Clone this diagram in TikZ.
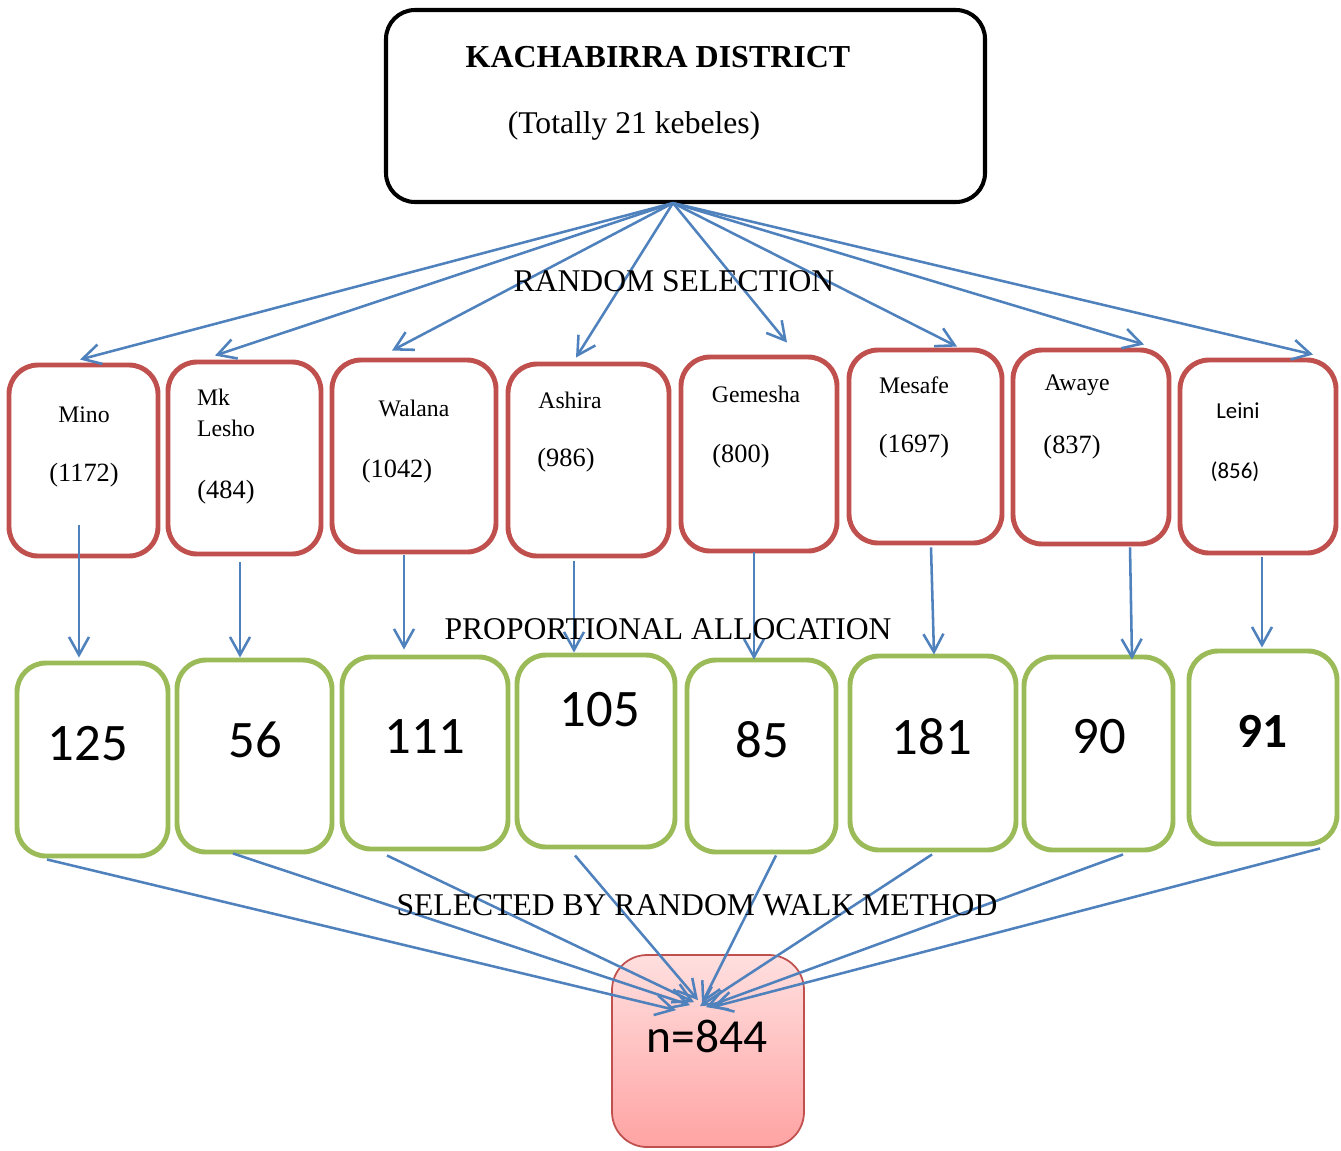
\documentclass[tikz,border=0pt]{standalone}
\usepackage{fontspec}
\setmainfont{Liberation Serif}
\newfontfamily\calibri{Carlito}
\usetikzlibrary{arrows.meta,calc,fit}
\definecolor{linkblue}{HTML}{4F81BD}
\definecolor{kebred}{HTML}{C0504D}
\definecolor{sizegreen}{HTML}{9BBB59}
\definecolor{pinktop}{HTML}{FFDFDF}
\definecolor{pinkbot}{HTML}{FFA3A3}

\begin{document}
\begin{tikzpicture}[x=0.02cm,y=-0.02cm,>={Straight Barb[length=3.6mm,width=4mm]},
  box/.style={draw,rounded corners=0.58cm,inner sep=0pt},
  kebbox/.style={box,kebred,line width=2.8pt},
  sizebox/.style={box,sizegreen,line width=2.8pt},
  link/.style={linkblue,line width=1.45pt},
  big/.style={font=\fontsize{18}{20}\selectfont},
  kname/.style={font=\fontsize{13.5}{18}\selectfont},
  knum/.style={font=\fontsize{15}{18}\selectfont},
  snum/.style={font=\calibri\fontsize{30}{32}\selectfont}]
\useasboundingbox (0,0) rectangle (1341,1150);
% district
\node[box,line width=2.3pt,fit={(386,10)(985,202)}] (top) {};
\node[font=\bfseries\fontsize{18.2}{20}\selectfont] (title) at (658,57) {KACHABIRRA DISTRICT};
\node[big] (total) at (634,126) {(Totally 21 kebeles)};
\coordinate (src) at ($(top.south)+(-12.5,-1)$);
% kebeles
\foreach \n/\xa/\ya/\xb/\yb in {mino/9/365/158/556,mklesho/168/362/321/554,walana/332/360/496/552,ashira/508/364/669/556,gemesha/681/357/837/551,mesafe/849/350/1002/543,awaye/1013/350/1169/544,leini/1180/360/1336/553}
  \node[kebbox,fit={(\xa,\ya)(\xb,\yb)}] (\n) {};
\node[kname] (minoname) at (84,415) {Mino};
\node[knum] (minohh) at (84,475) {(1172)};
\node[kname,align=left] (mkleshoname) at (226,413) {Mk\\Lesho};
\node[knum] (mkleshohh) at (226,492) {(484)};
\node[kname] (walananame) at (414,408) {Walana};
\node[knum] (walanahh) at (397,471) {(1042)};
\node[kname] (ashiraname) at (570,400) {Ashira};
\node[knum] (ashirahh) at (566,460) {(986)};
\node[kname] (gemeshaname) at (756,394) {Gemesha};
\node[knum] (gemeshahh) at (741,456) {(800)};
\node[kname] (mesafename) at (914,385) {Mesafe};
\node[knum] (mesafehh) at (914,446) {(1697)};
\node[kname] (awayename) at (1077,385) {Awaye};
\node[knum] (awayehh) at (1072,447) {(837)};
\node[font=\calibri\fontsize{13}{16}\selectfont] (leininame) at (1238,411) {Leini};
\node[font=\calibri\fontsize{13}{16}\selectfont] (leinihh) at (1235,472) {(856)};
% samples
\foreach \n/\xa/\ya/\xb/\yb in {smino/17/663/168/856,smklesho/177/660/332/852,swalana/342/657/508/849,sashira/517/655/675/847,sgemesha/687/660/836/852,smesafe/850/656/1016/850,sawaye/1024/657/1173/850,sleini/1189/651/1337/844}
  \node[sizebox,fit={(\xa,\ya)(\xb,\yb)}] (\n) {};
\node[snum] (minos) at (88,744) {125};
\node[snum] (mkleshos) at (255,740) {56};
\node[snum] (walanas) at (425,737) {111};
\node[snum] (ashiras) at (600,710) {105};
\node[snum] (gemeshas) at (762,740) {85};
\node[snum] (mesafes) at (932,737) {181};
\node[snum] (awayes) at (1099,737) {90};
\node[snum,font=\calibri\bfseries\fontsize{28}{30}\selectfont] (leinis) at (1262,731) {91};
% total sample
\node[box,rounded corners=0.7cm,kebred,line width=1pt,top color=pinktop,bottom color=pinkbot,fit={(612,955)(804,1147)}] (total) {};
\node[font=\calibri\fontsize{27}{30}\selectfont] (ntext) at (707,1036) {n=844};
% connectors
\foreach \n/\dx/\dy in {mino/-3.5/-3,mklesho/-29.5/-4,walana/-22/-7,ashira/-12.5/-4,gemesha/28/-12,mesafe/31.5/-1,awaye/53/-3,leini/55/-3}
  \draw[->,link] (src) -- ($(\n.north)+(\dx,\dy)$);
\foreach \a/\sx/\sy/\ex/\ey in {mino/-4.5/-33/-13.5/-3,mklesho/-4.5/6/-14.5/0,walana/-10/1/-21/-5,ashira/-14.5/3/-22/0,gemesha/-5/-1/-7.5/2,mesafe/5.5/2/1/1,awaye/39/1/33.5/5,leini/4/2/-1/-1}
  \draw[->,link] ($(\a.south)+(\sx,\sy)$) -- ($(s\a.north)+(\ex,\ey)$);
\foreach \a/\sx/\sy/\ex/\ey in {mino/-45.5/1/-32/56,mklesho/-21.5/-1/-18/51,walana/-38/4/-14/48,ashira/-21/6/-10/46,gemesha/14.5/1/-6/49,mesafe/-1/2/-8/52,awaye/24.5/2/-2/53,leini/57/2/4/53}
  \draw[->,link] ($(s\a.south)+(\sx,\sy)$) -- ($(total.north)+(\ex,\ey)$);
% stage labels
\node[big] (randsel) at (674,281) {RANDOM SELECTION};
\node[big] (propall) at (668,629) {PROPORTIONAL ALLOCATION};
\node[big] (walk) at (697,905) {SELECTED BY RANDOM WALK METHOD};
\end{tikzpicture}
\end{document}
